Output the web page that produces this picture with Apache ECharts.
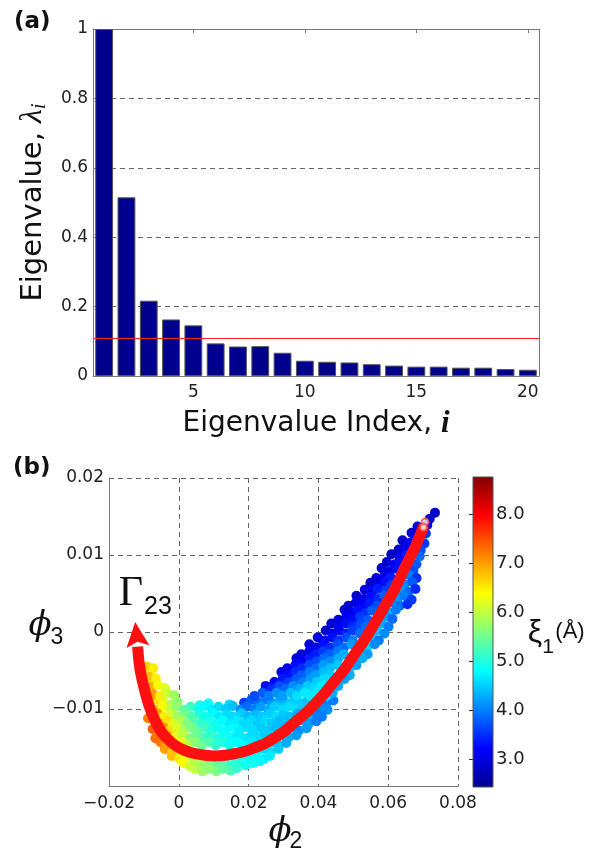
<!DOCTYPE html>
<html><head><meta charset="utf-8">
<script src="https://cdn.jsdelivr.net/npm/echarts@6/dist/echarts.min.js"></script>
<style>html,body{margin:0;padding:0;background:#fff}#c{width:599px;height:857px}</style>
</head><body><div id="c"></div>
<script>
// ---------- panel (a) ----------
const eigenIndex = ['1','2','3','4','5','6','7','8','9','10','11','12','13','14','15','16','17','18','19','20'];
const eigenvalues = [1.0,0.515,0.217,0.163,0.146,0.094,0.085,0.086,0.067,0.044,0.041,0.039,0.034,0.030,0.027,0.027,0.024,0.024,0.020,0.018];
const cutoff = 0.11;
const indexTickLabels = ['5','10','15','20'];

// ---------- panel (b) ----------
const phi2Range = [-0.02, 0.08];
const phi3Range = [-0.02, 0.02];
const xiRange = [2.44, 8.77];
const xiTicks = [3, 4, 5, 6, 7, 8];
const jetColors = ['#00008F','#0000FF','#0080FF','#00FFFF','#80FF80','#FFFF00','#FF8000','#FF0000','#800000'];

// [phi2, phi3, xi1]
const branchUpper = [
[0.0734,0.0155,2.9],
[0.0719,0.0147,2.9],[0.0712,0.0139,3.0],
[0.0684,0.0137,3.0],[0.0701,0.0133,3.2],
[0.0667,0.0129,2.9],[0.0688,0.0125,3.3],[0.0708,0.0128,3.6],
[0.0641,0.0119,2.9],[0.0662,0.0116,3.2],[0.0676,0.0120,3.3],[0.0704,0.0115,3.6],
[0.0630,0.0107,2.9],[0.0650,0.0110,3.1],[0.0693,0.0106,3.7],
[0.0609,0.0101,2.8],[0.0633,0.0097,3.1],[0.0652,0.0100,3.4],[0.0690,0.0098,3.9],
[0.0596,0.0091,2.9],[0.0619,0.0088,3.1],[0.0638,0.0092,3.3],[0.0681,0.0088,3.8],
[0.0581,0.0083,2.9],[0.0604,0.0079,3.0],[0.0625,0.0082,3.3],[0.0672,0.0080,3.7],
[0.0566,0.0070,3.0],[0.0590,0.0074,3.1],[0.0607,0.0071,3.4],[0.0659,0.0074,4.0],[0.0681,0.0070,3.5],
[0.0549,0.0064,2.9],[0.0572,0.0061,3.1],[0.0590,0.0065,3.3],[0.0609,0.0061,3.6],[0.0647,0.0062,4.1],[0.0669,0.0065,3.8],
[0.0533,0.0055,3.0],[0.0553,0.0052,3.1],[0.0569,0.0056,3.4],[0.0592,0.0053,3.6],[0.0636,0.0055,4.2],[0.0658,0.0052,3.9],[0.0678,0.0056,3.5],
[0.0509,0.0047,2.9],[0.0530,0.0043,3.1],[0.0552,0.0046,3.3],[0.0572,0.0043,3.5],[0.0589,0.0047,3.8],[0.0626,0.0043,4.2],[0.0645,0.0047,4.0],[0.0667,0.0042,3.6],
[0.0486,0.0034,2.9],[0.0507,0.0038,3.0],[0.0529,0.0034,3.2],[0.0547,0.0037,3.4],[0.0569,0.0034,3.7],[0.0615,0.0038,4.1],[0.0633,0.0034,3.9],[0.0655,0.0036,3.5],
[0.0475,0.0029,2.9],[0.0496,0.0025,3.1],[0.0513,0.0029,3.3],[0.0535,0.0025,3.5],[0.0553,0.0028,3.8],[0.0604,0.0025,4.3],[0.0622,0.0029,4.0],
[0.0457,0.0016,3.0],[0.0480,0.0020,3.2],[0.0498,0.0016,3.3],[0.0520,0.0020,3.6],[0.0541,0.0016,3.8],[0.0592,0.0020,4.2],[0.0612,0.0017,3.9],
[0.0437,0.0011,2.9],[0.0458,0.0007,3.1],[0.0480,0.0011,3.3],[0.0498,0.0007,3.5],[0.0520,0.0010,3.7],[0.0536,0.0007,3.9],[0.0581,0.0011,4.3],[0.0601,0.0007,4.0],
[0.0421,0.0002,2.9],[0.0440,-0.0002,3.1],[0.0460,0.0002,3.2],[0.0478,-0.0002,3.4],[0.0500,0.0002,3.6],[0.0518,-0.0002,3.9],[0.0567,0.0002,4.4],[0.0589,-0.0002,4.1],
[0.0398,-0.0007,3.0],[0.0418,-0.0011,3.2],[0.0440,-0.0007,3.3],[0.0458,-0.0011,3.5],[0.0480,-0.0007,3.7],[0.0498,-0.0011,4.0],[0.0555,-0.0007,4.4],[0.0573,-0.0011,4.0],
[0.0374,-0.0016,2.9],[0.0392,-0.0020,3.1],[0.0414,-0.0016,3.3],[0.0433,-0.0020,3.5],[0.0455,-0.0016,3.7],[0.0473,-0.0020,3.9],[0.0495,-0.0016,4.2],[0.0539,-0.0020,4.5],[0.0561,-0.0016,4.1],
[0.0351,-0.0029,2.9],[0.0374,-0.0025,3.2],[0.0392,-0.0029,3.4],[0.0414,-0.0025,3.6],[0.0433,-0.0029,3.8],[0.0455,-0.0025,4.0],[0.0473,-0.0029,4.3],[0.0523,-0.0025,4.5],[0.0541,-0.0029,4.2],
[0.0337,-0.0034,3.0],[0.0355,-0.0038,3.2],[0.0377,-0.0034,3.4],[0.0395,-0.0038,3.7],[0.0417,-0.0034,3.9],[0.0435,-0.0038,4.1],[0.0457,-0.0034,4.3],[0.0507,-0.0038,4.6],[0.0526,-0.0034,4.3],
[0.0311,-0.0047,3.1],[0.0334,-0.0043,3.3],[0.0352,-0.0047,3.5],[0.0374,-0.0043,3.7],[0.0392,-0.0047,3.9],[0.0414,-0.0043,4.2],[0.0433,-0.0047,4.4],[0.0455,-0.0043,4.5],[0.0490,-0.0047,4.5],[0.0509,-0.0043,4.2],
[0.0294,-0.0052,3.1],[0.0312,-0.0056,3.3],[0.0334,-0.0052,3.5],[0.0352,-0.0056,3.8],[0.0374,-0.0052,4.0],[0.0392,-0.0056,4.2],[0.0414,-0.0052,4.4],[0.0433,-0.0056,4.5],[0.0475,-0.0052,4.6],[0.0490,-0.0056,4.3],
[0.0274,-0.0065,3.2],[0.0297,-0.0061,3.4],[0.0315,-0.0065,3.6],[0.0337,-0.0061,3.8],[0.0355,-0.0065,4.0],[0.0377,-0.0061,4.2],[0.0395,-0.0065,4.5],[0.0417,-0.0061,4.6],[0.0456,-0.0065,4.6],[0.0475,-0.0061,4.2],
[0.0249,-0.0070,3.3],[0.0266,-0.0074,3.5],[0.0288,-0.0070,3.7],[0.0306,-0.0074,3.9],[0.0328,-0.0070,4.1],[0.0347,-0.0074,4.3],[0.0369,-0.0070,4.5],[0.0387,-0.0074,4.6],[0.0409,-0.0070,4.7],[0.0440,-0.0074,4.7],[0.0457,-0.0070,4.3],
[0.0217,-0.0083,3.7],[0.0240,-0.0079,3.8],[0.0258,-0.0083,4.0],[0.0280,-0.0079,4.1],[0.0298,-0.0083,4.2],[0.0320,-0.0079,4.4],[0.0338,-0.0083,4.6],[0.0360,-0.0079,4.7],[0.0378,-0.0083,4.7],[0.0397,-0.0079,4.7],[0.0423,-0.0083,4.6],[0.0441,-0.0079,4.3]
];

const valleyBand = [
[-0.0062,-0.0088,6.6],[-0.0043,-0.0092,6.2],[-0.0021,-0.0094,5.9],[-0.0003,-0.0091,5.7],
[0.0187,-0.0092,3.6],[0.0208,-0.0088,3.8],[0.0226,-0.0091,3.9],[0.0248,-0.0088,4.0],[0.0266,-0.0092,4.2],[0.0288,-0.0089,4.3],[0.0306,-0.0092,4.4],[0.0328,-0.0089,4.5],[0.0347,-0.0092,4.5],[0.0369,-0.0089,4.4],[0.0384,-0.0091,4.4],[0.0406,-0.0088,4.3],[0.0424,-0.0092,4.0],[0.0443,-0.0089,4.0],
[0.0060,-0.0095,5.0],[0.0085,-0.0093,4.8],[0.0145,-0.0094,4.6],
[-0.0064,-0.0101,6.8],[-0.0046,-0.0097,6.4],[-0.0024,-0.0100,6.0],[-0.0006,-0.0097,5.7],[0.0016,-0.0101,5.4],[0.0034,-0.0097,5.2],[0.0056,-0.0100,4.9],[0.0074,-0.0096,4.8],[0.0096,-0.0101,4.7],[0.0114,-0.0097,4.6],[0.0136,-0.0100,4.5],[0.0155,-0.0096,4.4],[0.0177,-0.0101,4.1],[0.0195,-0.0097,3.9],[0.0217,-0.0100,4.0],[0.0235,-0.0097,4.2],[0.0257,-0.0101,4.3],[0.0275,-0.0097,4.5],[0.0297,-0.0101,4.6],[0.0315,-0.0097,4.6],[0.0337,-0.0100,4.6],[0.0355,-0.0097,4.5],[0.0389,-0.0101,4.4],[0.0407,-0.0098,4.1],[0.0426,-0.0101,4.1],
[-0.0061,-0.0106,7.0],[-0.0043,-0.0110,6.5],[-0.0021,-0.0107,6.1],[-0.0003,-0.0110,5.8],[0.0019,-0.0106,5.5],[0.0037,-0.0110,5.3],[0.0059,-0.0107,5.0],[0.0077,-0.0110,4.9],[0.0099,-0.0106,4.8],[0.0117,-0.0110,4.7],[0.0139,-0.0107,4.6],[0.0157,-0.0110,4.6],[0.0180,-0.0106,4.5],[0.0198,-0.0110,4.4],[0.0220,-0.0107,4.4],[0.0238,-0.0110,4.5],[0.0260,-0.0106,4.5],[0.0278,-0.0110,4.6],[0.0300,-0.0107,4.5],[0.0318,-0.0110,4.4],[0.0340,-0.0106,4.3],[0.0372,-0.0110,4.3],[0.0394,-0.0106,4.0],[0.0410,-0.0110,4.0],
[-0.0055,-0.0119,7.1],[-0.0033,-0.0115,6.6],[-0.0014,-0.0119,6.2],[0.0008,-0.0115,5.9],[0.0026,-0.0119,5.6],[0.0048,-0.0115,5.3],[0.0066,-0.0119,5.1],[0.0088,-0.0116,5.0],[0.0106,-0.0119,4.9],[0.0128,-0.0115,4.8],[0.0146,-0.0119,4.7],[0.0168,-0.0115,4.7],[0.0186,-0.0119,4.6],[0.0208,-0.0115,4.6],[0.0226,-0.0119,4.5],[0.0248,-0.0115,4.6],[0.0266,-0.0119,4.5],[0.0288,-0.0116,4.4],[0.0306,-0.0119,4.4],[0.0354,-0.0115,4.3],[0.0372,-0.0119,4.2],[0.0394,-0.0116,4.0],
[-0.0044,-0.0124,7.1],[-0.0026,-0.0128,6.6],[-0.0004,-0.0125,6.2],[0.0014,-0.0128,5.9],[0.0036,-0.0124,5.6],[0.0054,-0.0128,5.4],[0.0076,-0.0124,5.2],[0.0094,-0.0128,5.0],[0.0116,-0.0125,4.9],[0.0134,-0.0128,4.8],[0.0157,-0.0124,4.8],[0.0175,-0.0128,4.7],[0.0197,-0.0124,4.6],[0.0215,-0.0128,4.6],[0.0237,-0.0125,4.5],[0.0255,-0.0128,4.5],[0.0277,-0.0124,4.4],[0.0292,-0.0128,4.4],[0.0326,-0.0124,4.3],[0.0344,-0.0128,4.1],[0.0366,-0.0125,4.2],
[-0.0067,-0.0138,7.3],[-0.0032,-0.0134,6.8],[-0.0010,-0.0137,6.4],[0.0008,-0.0134,6.0],[0.0031,-0.0138,5.7],[0.0049,-0.0134,5.5],[0.0071,-0.0137,5.3],[0.0089,-0.0134,5.1],[0.0111,-0.0138,5.0],[0.0129,-0.0134,4.9],[0.0151,-0.0137,4.8],[0.0169,-0.0134,4.7],[0.0191,-0.0138,4.7],[0.0209,-0.0134,4.6],[0.0231,-0.0137,4.6],[0.0249,-0.0134,4.5],[0.0265,-0.0138,4.5],[0.0297,-0.0134,4.4],[0.0315,-0.0137,4.3],[0.0337,-0.0134,4.2],
[-0.0053,-0.0143,7.2],[-0.0035,-0.0147,6.9],[0.0008,-0.0143,6.3],[0.0026,-0.0147,6.0],[0.0048,-0.0143,5.7],[0.0066,-0.0147,5.5],[0.0088,-0.0143,5.3],[0.0106,-0.0147,5.1],[0.0128,-0.0143,5.0],[0.0146,-0.0147,4.9],[0.0168,-0.0143,4.8],[0.0186,-0.0147,4.8],[0.0208,-0.0143,4.7],[0.0226,-0.0147,4.6],[0.0268,-0.0143,4.5],[0.0286,-0.0147,4.4],[0.0308,-0.0144,4.3],
[-0.0040,-0.0152,7.0],[-0.0018,-0.0156,6.7],[0.0000,-0.0152,6.4],[0.0022,-0.0156,6.2],[0.0205,-0.0152,4.8],[0.0223,-0.0156,4.7],[0.0245,-0.0152,4.6],[0.0263,-0.0156,4.6],[0.0286,-0.0152,4.5],
[-0.0020,-0.0161,6.8],[0.0002,-0.0165,6.5],[0.0020,-0.0161,6.2],[0.0042,-0.0165,6.0],[0.0060,-0.0161,5.8],[0.0082,-0.0165,5.6],[0.0100,-0.0161,5.4],[0.0122,-0.0165,5.3],[0.0140,-0.0161,5.2],[0.0162,-0.0165,5.0],[0.0180,-0.0161,4.9],[0.0202,-0.0165,4.8],[0.0220,-0.0161,4.8],[0.0243,-0.0165,4.7],[0.0261,-0.0161,4.7],
[0.0013,-0.0170,6.4],[0.0031,-0.0174,6.1],[0.0053,-0.0170,5.9],[0.0071,-0.0174,5.7],[0.0094,-0.0170,5.6],[0.0112,-0.0174,5.4],[0.0134,-0.0170,5.3],[0.0152,-0.0174,5.1],[0.0174,-0.0170,5.0],[0.0192,-0.0173,4.9],[0.0214,-0.0170,4.9],[0.0232,-0.0168,4.8],
[0.0046,-0.0178,6.0],[0.0068,-0.0181,5.8],[0.0086,-0.0178,5.7],[0.0108,-0.0181,5.6],[0.0126,-0.0178,5.4],[0.0148,-0.0180,5.3],[0.0166,-0.0177,5.1]
];

const branchLeft = [
[-0.0091,-0.0045,6.7],[-0.0073,-0.0047,6.5],
[-0.0085,-0.0058,6.8],[-0.0066,-0.0060,6.5],
[-0.0079,-0.0071,6.9],[-0.0059,-0.0069,6.4],[-0.0039,-0.0073,6.2],
[-0.0073,-0.0081,7.0],[-0.0054,-0.0083,6.5],[-0.0034,-0.0080,6.1],[-0.0013,-0.0082,5.8],
[-0.0088,-0.0112,7.2],[-0.0075,-0.0126,7.4],[-0.0060,-0.0138,7.3]
];

// path Gamma_23 (phi2, phi3)
const gammaPath = [
[0.0703,0.0139],[0.0677,0.0110],[0.0648,0.0084],[0.0620,0.0057],[0.0591,0.0034],[0.0562,0.0012],
[0.0534,-0.0009],[0.0505,-0.0028],[0.0477,-0.0047],[0.0448,-0.0063],[0.0419,-0.0079],[0.0391,-0.0093],
[0.0362,-0.0106],[0.0333,-0.0117],[0.0305,-0.0128],[0.0276,-0.0137],[0.0247,-0.0145],[0.0219,-0.0150],
[0.0190,-0.0155],[0.0161,-0.0158],[0.0133,-0.0160],[0.0104,-0.0161],[0.0075,-0.0160],[0.0047,-0.0158],
[0.0018,-0.0154],[-0.0011,-0.0147],[-0.0034,-0.0138],[-0.0054,-0.0127],[-0.0071,-0.0112],[-0.0085,-0.0096],
[-0.0097,-0.0077],[-0.0108,-0.0056],[-0.0114,-0.0039],[-0.0118,-0.0019]
];
// arrow head: [tip phi2, tip phi3, base phi2, base phi3]
const gammaArrowHead = [[-0.0125, 0.0013, -0.0117, -0.0019]];
const gammaRings = [[0.0706,0.0143],[0.0701,0.0136]];

// ---------- chart ----------
const chart = echarts.init(document.getElementById('c'));
const tickFont = {fontFamily:'DejaVu Sans', fontSize:17, color:'#222'};
const frameLine = {show:true, onZero:false, lineStyle:{color:'#777', width:1}};
const dashLine = {show:true, lineStyle:{color:'#666', type:[5,4], width:1}};
const showIdx = (i, v) => indexTickLabels.includes(v);
const fmtSigned = v => {
  if (Math.abs(v) < 1e-9) return '0';
  return (v < 0 ? '\u2212' : '') + Math.abs(v).toFixed(2);
};
const scatterBase = {type:'scatter', xAxisIndex:2, yAxisIndex:2, symbolSize:10, z:2, itemStyle:{opacity:1}};
const jetStops = jetColors.map((c, i) => ({offset: 1 - i / (jetColors.length - 1), color: c})).reverse();

chart.setOption({
  animation:false,
  backgroundColor:'#fff',
  grid:[
    {left:93, top:29, width:446, height:347},
    {left:109, top:478, width:349, height:308},
    {left:473, top:477, width:20, height:310}
  ],
  xAxis:[
    {type:'category', gridIndex:0, data:eigenIndex, position:'bottom', boundaryGap:true,
     axisLine:frameLine, axisTick:{show:true, inside:true, length:4, alignWithLabel:true, interval:showIdx, lineStyle:{color:'#777'}},
     axisLabel:Object.assign({interval:showIdx, margin:8}, tickFont),
     name:'Eigenvalue Index, {i|i}', nameLocation:'middle', nameGap:32,
     nameTextStyle:{fontFamily:'DejaVu Sans', fontSize:28, color:'#111',
       rich:{i:{fontFamily:'Liberation Serif', fontStyle:'italic', fontWeight:'bold', fontSize:31, color:'#111'}}}},
    {type:'category', gridIndex:0, data:eigenIndex, position:'top', boundaryGap:true,
     axisLine:frameLine, axisTick:{show:true, inside:true, length:4, alignWithLabel:true, interval:showIdx, lineStyle:{color:'#777'}},
     axisLabel:{show:false}},
    {type:'value', gridIndex:1, min:phi2Range[0], max:phi2Range[1], interval:0.02,
     axisLine:frameLine, axisTick:{show:false}, splitLine:dashLine,
     axisLabel:Object.assign({formatter:fmtSigned, margin:9}, tickFont)},
    {type:'value', gridIndex:2, min:0, max:1, show:false}
  ],
  yAxis:[
    {type:'value', gridIndex:0, min:0, max:1, interval:0.2,
     axisLine:frameLine, axisTick:{show:true, inside:true, length:4, lineStyle:{color:'#777'}},
     splitLine:dashLine, axisLabel:Object.assign({margin:5}, tickFont),
     name:'Eigenvalue, {l|\u03bb}{s|i}', nameLocation:'middle', nameGap:36,
     nameTextStyle:{fontFamily:'DejaVu Sans', fontSize:29, color:'#111', lineHeight:34,
       rich:{l:{fontFamily:'Liberation Serif', fontStyle:'italic', fontSize:32, color:'#111', lineHeight:34},
             s:{fontFamily:'Liberation Serif', fontStyle:'italic', fontSize:20, color:'#111', verticalAlign:'bottom', lineHeight:34}}}},
    {type:'value', gridIndex:0, min:0, max:1, interval:0.2, position:'right',
     axisLine:frameLine, axisTick:{show:true, inside:true, length:4, lineStyle:{color:'#777'}},
     splitLine:{show:false}, axisLabel:{show:false}},
    {type:'value', gridIndex:1, min:phi3Range[0], max:phi3Range[1], interval:0.01,
     axisLine:frameLine, axisTick:{show:false}, splitLine:dashLine,
     axisLabel:Object.assign({margin:5, formatter:v => (Math.abs(v - phi3Range[0]) < 1e-9 ? '' : fmtSigned(v))}, tickFont)},
    {type:'value', gridIndex:2, min:xiRange[0], max:xiRange[1], position:'right',
     axisLine:{show:false}, splitLine:{show:false},
     axisTick:{show:true, inside:true, length:4, customValues:xiTicks, lineStyle:{color:'#333'}},
     axisLabel:Object.assign({customValues:xiTicks, formatter:v => v.toFixed(1), margin:3}, tickFont, {fontSize:18})}
  ],
  visualMap:{type:'continuous', show:false, seriesIndex:[1,2,3], dimension:2,
    min:xiRange[0], max:xiRange[1], inRange:{color:jetColors}},
  series:[
    {type:'bar', xAxisIndex:0, yAxisIndex:0, data:eigenvalues, barWidth:'80%',
     itemStyle:{color:'#00008F', borderColor:'#555', borderWidth:1},
     markLine:{silent:true, symbol:'none', label:{show:false},
       lineStyle:{color:'#ff2020', width:1, type:'solid'}, data:[{yAxis:cutoff}]}},
    Object.assign({data:valleyBand}, scatterBase),
    Object.assign({data:branchLeft}, scatterBase),
    Object.assign({data:branchUpper}, scatterBase),
    {type:'line', xAxisIndex:2, yAxisIndex:2, data:gammaPath, smooth:0.2, symbol:'none', z:3,
     lineStyle:{color:'#ff1010', width:11, cap:'butt', join:'round'}},
    {type:'custom', xAxisIndex:2, yAxisIndex:2, data:gammaArrowHead, z:4, clip:false,
     renderItem:function(params, api){
       const t = api.coord([api.value(0), api.value(1)]);
       const b = api.coord([api.value(2), api.value(3)]);
       const dx = t[0]-b[0], dy = t[1]-b[1], L = Math.hypot(dx, dy);
       const ux = dx/L, uy = dy/L, px = -uy, py = ux, hw = 11.5;
       return {type:'polygon', shape:{points:[
         t, [b[0]+px*hw, b[1]+py*hw], [b[0]+ux*5, b[1]+uy*5], [b[0]-px*hw, b[1]-py*hw]]},
         style:{fill:'#ff1010'}};
     }},
    {type:'scatter', xAxisIndex:2, yAxisIndex:2, data:gammaRings, symbol:'emptyCircle', symbolSize:7, z:4,
     itemStyle:{color:'#ff4040', borderColor:'#ff4040', borderWidth:1}},
    {type:'custom', xAxisIndex:3, yAxisIndex:3, data:[[0, xiRange[0], xiRange[1]]], clip:false,
     encode:{x:0, y:[1,2]},
     renderItem:function(params, api){
       const p0 = api.coord([0, api.value(2)]);
       const p1 = api.coord([1, api.value(1)]);
       return {type:'rect', shape:{x:p0[0], y:p0[1], width:p1[0]-p0[0], height:p1[1]-p0[1]},
         style:{fill:new echarts.graphic.LinearGradient(0,0,0,1,jetStops), stroke:'#555', lineWidth:1}};
     }}
  ],
  graphic:[
    {type:'text', x:14, y:22, style:{text:'(a)', fontFamily:'DejaVu Sans', fontWeight:'bold', fontSize:23, fill:'#111', verticalAlign:'middle'}},
    {type:'text', x:13, y:468, style:{text:'(b)', fontFamily:'DejaVu Sans', fontWeight:'bold', fontSize:23, fill:'#111', verticalAlign:'middle'}},
    {type:'text', x:131, y:594, style:{text:'\u0393', fontFamily:'Liberation Serif', fontSize:42, fill:'#111', align:'center', verticalAlign:'middle'}},
    {type:'text', x:158, y:607, style:{text:'23', fontFamily:'Liberation Sans', fontSize:25, fill:'#111', align:'center', verticalAlign:'middle'}},
    {type:'text', x:40, y:626, style:{text:'\u03d5', fontFamily:'DejaVu Serif', fontStyle:'italic', fontSize:34, fill:'#111', align:'center', verticalAlign:'middle'}},
    {type:'text', x:57, y:638, style:{text:'3', fontFamily:'Liberation Sans', fontSize:23, fill:'#111', align:'center', verticalAlign:'middle'}},
    {type:'text', x:280, y:832, style:{text:'\u03d5', fontFamily:'DejaVu Serif', fontStyle:'italic', fontSize:34, fill:'#111', align:'center', verticalAlign:'middle'}},
    {type:'text', x:296, y:842, style:{text:'2', fontFamily:'Liberation Sans', fontSize:23, fill:'#111', align:'center', verticalAlign:'middle'}},
    {type:'text', x:535, y:633, style:{text:'\u03be', fontFamily:'Liberation Sans', fontSize:32, fill:'#111', align:'center', verticalAlign:'middle'}},
    {type:'text', x:548, y:647, style:{text:'1', fontFamily:'Liberation Sans', fontSize:21, fill:'#111', align:'center', verticalAlign:'middle'}},
    {type:'text', x:570, y:632, style:{text:'(\u00c5)', fontFamily:'Liberation Sans', fontSize:22, fill:'#111', align:'center', verticalAlign:'middle'}}
  ]
});
</script></body></html>
